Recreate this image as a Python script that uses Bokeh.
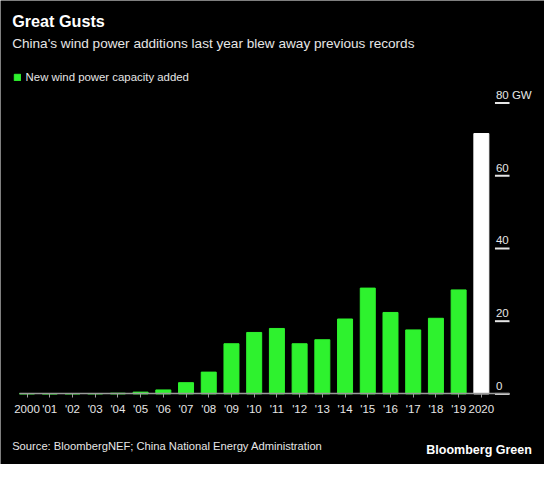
from bokeh.plotting import figure
from bokeh.models import Range1d, Label, Legend, LegendItem, FixedTicker, ColumnDataSource
from bokeh.core.properties import value
from bokeh.embed import file_html
from bokeh.resources import INLINE

years = ["2000", "'01", "'02", "'03", "'04", "'05", "'06", "'07", "'08", "'09", "'10",
         "'11", "'12", "'13", "'14", "'15", "'16", "'17", "'18", "'19", "2020"]
added_gw = [0.08, 0.05, 0.07, 0.1, 0.2, 0.5, 1.1, 3.1, 6.0, 13.8, 16.9,
            18.0, 13.8, 14.9, 20.6, 29.1, 22.4, 17.6, 20.8, 28.6, 71.6]
y_ticks = [0, 20, 40, 60, 80]
y_tick_labels = ["0", "20", "40", "60", "80 GW"]

GREEN = "#2ef22e"
FONT = "Liberation Sans"
TXT = "#e6e6e6"

idx = list(range(len(years)))
colors = [GREEN] * (len(years) - 1) + ["#ffffff"]

# layout helpers: reference-canvas position (560x480) -> data coordinates
def px(x):
    return (x - 27.3) / 23.385

def py(y):
    return (407 - y) / 3.7625

W, H = 544, 464
p = figure(width=W, height=H, output_backend="svg", toolbar_location=None,
           x_range=Range1d(px(0), px(560)), y_range=Range1d(py(480), py(0)),
           min_border=0)
p.background_fill_color = "black"
p.border_fill_color = "black"
p.outline_line_color = None
p.grid.visible = False
p.yaxis.visible = False

src = ColumnDataSource(dict(x=idx, top=added_gw, color=colors))
bars = p.vbar(x="x", top="top", width=0.66, color="color", source=src)

ax = p.xaxis[0]
ax.fixed_location = 0
ax.ticker = FixedTicker(ticks=idx)
ax.major_label_overrides = {i: y for i, y in enumerate(years)}
ax.minor_tick_line_color = None
ax.axis_line_color = "#9a9a9a"
ax.axis_line_width = 1.5
ax.major_tick_line_color = "#9a9a9a"
ax.major_tick_in = 0
ax.major_tick_out = 4
ax.major_label_text_color = TXT
ax.major_label_text_font = FONT
ax.major_label_text_font_size = "11.5px"
ax.major_label_standoff = 5
ax.bounds = (px(20), px(524))

# right-side value ticks
p.segment(x0=[px(509)] * len(y_ticks), x1=[px(524)] * len(y_ticks),
          y0=y_ticks, y1=y_ticks, line_color=TXT, line_width=2)
p.text(x=[px(510)] * len(y_ticks), y=y_ticks, text=y_tick_labels,
       text_color=TXT, text_font_size="11.5px", text_baseline="alphabetic",
       y_offset=-8, text_font=value(FONT))

legend = Legend(items=[LegendItem(label="New wind power capacity added", renderers=[bars], index=0)],
                location=(12.6, 381), margin=0, padding=0, spacing=0,
                glyph_width=8, glyph_height=8, label_height=8, label_standoff=5,
                label_text_font=FONT, label_text_font_size="11.4px",
                label_text_color=TXT, background_fill_alpha=0,
                border_line_alpha=0)
p.add_layout(legend)

p.add_layout(Label(x=px(12), y=py(31), text="Great Gusts", text_color="white",
                   text_font=FONT, text_font_style="bold", text_font_size="16.2px"))
p.add_layout(Label(x=px(12), y=py(52.5), text="China's wind power additions last year blew away previous records",
                   text_color=TXT, text_font=FONT, text_font_size="13.6px"))
p.add_layout(Label(x=px(12), y=py(466.7), text="Source: BloombergNEF; China National Energy Administration",
                   text_color=TXT, text_font=FONT, text_font_size="11.2px"))
p.add_layout(Label(x=px(547), y=py(472.3), text="Bloomberg Green", text_align="right",
                   text_color="white", text_font=FONT, text_font_style="bold",
                   text_font_size="12.5px"))

open("out.html", "w").write(file_html(p, INLINE))
